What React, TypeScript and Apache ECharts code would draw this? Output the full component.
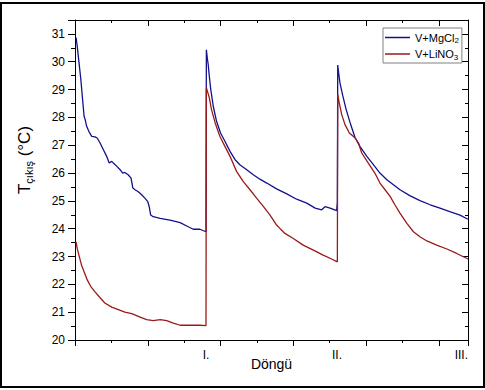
import React, { useEffect, useRef } from "react";
import * as echarts from "echarts";

// Cycle position (x) and outlet temperature (°C)
const mgX = [0.03,0.06,0.11,0.16,0.20,0.25,0.28,0.32,0.38,0.46,0.55,0.61,0.69,0.78,0.87,0.94,1.01,1.07,1.15,1.24,1.31,1.37,1.46,1.54,1.59,1.65,1.74,1.83,1.92,2.00,2.04,2.08,2.15,2.34,2.61,2.89,3.11,3.25,3.43,3.60,
  3.61,3.64,3.66,3.69,3.73,3.80,3.89,4.00,4.12,4.26,4.40,4.53,4.72,4.90,5.08,5.27,5.54,5.82,6.09,6.37,6.60,6.78,6.87,7.01,7.19,7.21,
  7.22,7.25,7.28,7.36,7.45,7.56,7.70,7.83,8.02,8.20,8.38,8.57,8.75,8.93,9.20,9.48,9.76,10.03,10.30,10.58,10.80];
const mgY = [30.87,30.57,29.97,29.37,28.77,28.04,27.92,27.68,27.50,27.32,27.30,27.26,27.08,26.84,26.60,26.36,26.42,26.34,26.24,26.12,26.00,26.02,25.94,25.82,25.46,25.40,25.33,25.22,25.10,24.97,24.79,24.49,24.43,24.37,24.31,24.22,24.07,23.98,23.98,23.89,
  30.43,30.09,29.91,29.49,29.01,28.40,27.86,27.44,27.14,26.78,26.48,26.30,26.12,25.94,25.78,25.64,25.43,25.25,25.06,24.92,24.74,24.68,24.79,24.74,24.65,24.95,
  29.88,29.55,29.25,28.77,28.29,27.81,27.26,26.96,26.60,26.30,26.00,25.76,25.58,25.40,25.19,25.01,24.86,24.74,24.61,24.49,24.34];

const liX = [0.03,0.06,0.12,0.18,0.25,0.34,0.43,0.55,0.69,0.82,1.01,1.19,1.37,1.56,1.79,1.97,2.15,2.34,2.52,2.70,2.89,3.16,3.43,3.60,
  3.61,3.69,3.75,3.85,3.98,4.12,4.26,4.44,4.62,4.81,4.99,5.18,5.36,5.54,5.63,5.77,6.00,6.27,6.55,6.82,7.05,7.21,
  7.22,7.26,7.33,7.42,7.54,7.70,7.79,7.88,8.06,8.24,8.38,8.52,8.66,8.79,8.93,9.12,9.30,9.48,9.67,9.94,10.22,10.49,10.80];
const liY = [23.53,23.29,22.99,22.69,22.45,22.15,21.93,21.73,21.52,21.33,21.18,21.09,21.00,20.95,20.82,20.73,20.70,20.73,20.70,20.61,20.53,20.53,20.53,20.52,
  29.07,28.71,28.29,27.81,27.32,26.96,26.60,26.06,25.70,25.40,25.10,24.79,24.49,24.13,24.01,23.83,23.65,23.41,23.23,23.05,22.91,22.81,
  28.83,28.53,28.10,27.74,27.44,27.26,27.08,26.72,26.36,26.00,25.64,25.40,25.16,24.86,24.56,24.19,23.89,23.71,23.56,23.41,23.27,23.11,22.91];

const cycleLabels = ["", "I.", "II.", "III."];
const seriesNames = ["V+MgCl2", "V+LiNO3"];

const FONT = "'Liberation Sans', Arial, sans-serif";

export default function App() {
  const ref = useRef<HTMLDivElement>(null);
  useEffect(() => {
    if (!ref.current) return;
    const chart = echarts.init(ref.current, null, { renderer: "svg" });
    const line = { color: "#000", width: 1 };
    chart.setOption({
      animation: false,
      textStyle: { fontFamily: FONT },
      grid: { left: 75, right: 17, top: 20, bottom: 50 },
      legend: {
        orient: "vertical",
        left: 383,
        top: 28,
        padding: [4, 3, 2, 2],
        itemGap: 4,
        itemWidth: 25,
        itemHeight: 1.5,
        icon: "rect",
        borderColor: "#808080",
        borderWidth: 1,
        data: seriesNames,
        formatter: (n: string) =>
          n === "V+MgCl2" ? "{m|V+MgCl}{s|2}" : "{m|V+LiNO}{s|3}",
        textStyle: {
          fontFamily: FONT,
          rich: {
            m: { fontSize: 11, color: "#000", lineHeight: 14, fontFamily: FONT },
            s: { fontSize: 8, color: "#000", lineHeight: 8, verticalAlign: "bottom", fontFamily: FONT },
          },
        },
      },
      xAxis: [
        {
          type: "value", min: 0, max: 10.8, interval: 2, position: "bottom",
          axisLine: { show: true, onZero: false, lineStyle: line },
          axisTick: { show: true, length: 6, lineStyle: line },
          minorTick: { show: true, splitNumber: 2, length: 3, lineStyle: line },
          axisLabel: { show: false },
          splitLine: { show: false },
        },
        {
          type: "value", min: 0, max: 10.8, interval: 3.6, position: "bottom",
          axisLine: { show: false },
          axisTick: { show: false },
          splitLine: { show: false },
          axisLabel: {
            margin: 9, fontSize: 12, color: "#000", fontFamily: FONT,
            showMinLabel: false, alignMaxLabel: "right",
            formatter: (v: number) => cycleLabels[Math.round(v / 3.6)] || "",
          },
          name: "Döngü", nameLocation: "middle", nameGap: 17, nameMoveOverlap: false,
          nameTextStyle: { fontSize: 14, color: "#000", fontFamily: FONT, verticalAlign: "top" },
        },
        {
          type: "value", min: 0, max: 10.8, interval: 2, position: "top",
          axisLine: { show: true, onZero: false, lineStyle: line },
          axisTick: { show: true, inside: true, length: 6, lineStyle: line },
          minorTick: { show: true, splitNumber: 2, length: 3, lineStyle: line },
          axisLabel: { show: false },
          splitLine: { show: false },
        },
      ],
      yAxis: [
        {
          type: "value", min: 20, max: 31.5, interval: 1, position: "left",
          axisLine: { show: true, onZero: false, lineStyle: line },
          axisTick: { show: true, length: 7, lineStyle: line },
          minorTick: { show: true, splitNumber: 2, length: 4, lineStyle: line },
          splitLine: { show: false },
          axisLabel: { margin: 10, fontSize: 12, color: "#000", fontFamily: FONT, showMaxLabel: false },
          name: "{t|T}{s|çıkış}{t| (°C)}",
          nameLocation: "middle", nameRotate: 90, nameGap: 41, nameMoveOverlap: false,
          nameTextStyle: {
            padding: [0, 0, 0, 40],
            rich: {
              t: { fontSize: 17, color: "#000", lineHeight: 20, fontFamily: FONT },
              s: { fontSize: 11, color: "#000", lineHeight: 11, verticalAlign: "bottom", fontFamily: FONT },
            },
          },
        },
        {
          type: "value", min: 20, max: 31.5, interval: 1, position: "right",
          axisLine: { show: true, onZero: false, lineStyle: line },
          axisTick: { show: true, inside: true, length: 6, lineStyle: line },
          minorTick: { show: true, splitNumber: 2, length: 3, lineStyle: line },
          splitLine: { show: false },
          axisLabel: { show: false },
        },
      ],
      series: [
        {
          name: seriesNames[0], type: "line", xAxisIndex: 0, yAxisIndex: 0,
          symbol: "none", color: "#12128c",
          lineStyle: { width: 1.3, color: "#12128c" },
          data: mgX.map((x, i) => [x, mgY[i]]),
        },
        {
          name: seriesNames[1], type: "line", xAxisIndex: 0, yAxisIndex: 0,
          symbol: "none", color: "#9a1a1a",
          lineStyle: { width: 1.3, color: "#9a1a1a" },
          data: liX.map((x, i) => [x, liY[i]]),
        },
      ],
    });
    return () => chart.dispose();
  }, []);
  return (
    <div style={{ position: "fixed", left: 0, top: 0, width: 485, height: 390, background: "#fff" }}>
      <div ref={ref} style={{ position: "absolute", left: 0, top: 0, width: 485, height: 390 }} />
      <div
        style={{
          position: "absolute", left: 0, top: 2, width: 485, height: 386,
          border: "2px solid #000", boxSizing: "border-box", pointerEvents: "none",
        }}
      />
    </div>
  );
}
